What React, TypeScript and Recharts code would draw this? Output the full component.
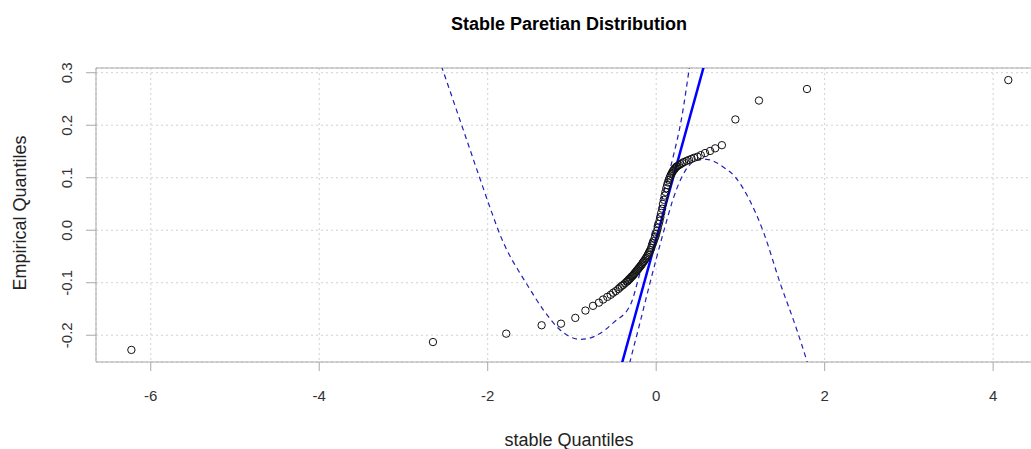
import React from "react";
import {
  ComposedChart,
  Scatter,
  Line,
  XAxis,
  YAxis,
  CartesianGrid,
  ReferenceArea,
} from "recharts";

// theoretical (stable) quantiles and the matching sample quantiles
const stableQuantiles = [
  -6.23, -2.65, -1.78, -1.36, -1.13, -0.96, -0.84, -0.75, -0.68, -0.63, -0.58, -0.54,
  -0.51, -0.48, -0.45, -0.43, -0.41, -0.39, -0.37, -0.35, -0.34, -0.33, -0.32, -0.31,
  -0.3, -0.29, -0.28, -0.27, -0.26, -0.25, -0.24, -0.23, -0.22, -0.21, -0.2, -0.19,
  -0.18, -0.17, -0.16, -0.15, -0.14, -0.13, -0.12, -0.11, -0.1, -0.09, -0.08, -0.07,
  -0.06, -0.05, -0.04, -0.03, -0.02, -0.01, 0.0, 0.01, 0.02, 0.03, 0.04, 0.05, 0.06,
  0.07, 0.08, 0.09, 0.1, 0.11, 0.12, 0.13, 0.14, 0.15, 0.16, 0.17, 0.18, 0.19, 0.2,
  0.21, 0.22, 0.23, 0.24, 0.25, 0.27, 0.29, 0.31, 0.33, 0.36, 0.39, 0.42, 0.45, 0.49,
  0.53, 0.58, 0.64, 0.7, 0.78, 0.94, 1.22, 1.79, 4.18,
];
const empiricalQuantiles = [
  -0.228, -0.213, -0.197, -0.181, -0.178, -0.167, -0.153, -0.144, -0.138, -0.132,
  -0.127, -0.123, -0.119, -0.116, -0.112, -0.109, -0.106, -0.104, -0.101, -0.098,
  -0.097, -0.095, -0.093, -0.092, -0.09, -0.088, -0.087, -0.085, -0.083, -0.081,
  -0.079, -0.077, -0.075, -0.073, -0.071, -0.069, -0.067, -0.065, -0.062, -0.06,
  -0.058, -0.055, -0.053, -0.05, -0.047, -0.044, -0.041, -0.038, -0.034, -0.029,
  -0.025, -0.021, -0.016, -0.012, -0.007, -0.001, 0.005, 0.012, 0.018, 0.025, 0.033,
  0.041, 0.05, 0.058, 0.066, 0.073, 0.08, 0.086, 0.091, 0.096, 0.1, 0.104, 0.107,
  0.11, 0.113, 0.115, 0.117, 0.119, 0.121, 0.122, 0.124, 0.126, 0.128, 0.13, 0.132,
  0.134, 0.136, 0.138, 0.14, 0.143, 0.147, 0.151, 0.156, 0.162, 0.211, 0.247, 0.269,
  0.286,
];

// reference line (qqline) end points
const qqLineX = [-0.5, 0.75];
const qqLineY = [-0.308, 0.4195];

// pointwise confidence envelope
const upperBandX = [
  -2.62, -2.533, -2.33, -2.1, -1.95, -1.85, -1.75, -1.65, -1.535, -1.338, -1.14, -0.9,
  -0.704, -0.507, -0.3, -0.2, -0.1, 0.0, 0.1, 0.2, 0.3, 0.4, 0.45,
];
const upperBandY = [
  0.345, 0.305, 0.21, 0.102, 0.033, -0.01, -0.045, -0.073, -0.103, -0.152, -0.19,
  -0.208, -0.2, -0.176, -0.14, -0.086, -0.033, 0.021, 0.078, 0.139, 0.212, 0.316, 0.37,
];
const lowerBandX = [
  -0.34, -0.31, -0.2, -0.1, 0.0, 0.1, 0.2, 0.3, 0.4, 0.5, 0.6, 0.7, 0.8, 0.94, 1.1,
  1.27, 1.47, 1.67, 1.79, 1.86,
];
const lowerBandY = [
  -0.27, -0.25, -0.181, -0.117, -0.055, 0.004, 0.059, 0.1, 0.125, 0.134, 0.135, 0.13,
  0.12, 0.101, 0.06, -0.002, -0.1, -0.19, -0.25, -0.29,
];

const xTicks = [-6, -4, -2, 0, 2, 4];
const yTicks = [-0.2, -0.1, 0.0, 0.1, 0.2, 0.3];

const toRows = (xs: number[], ys: number[]) => xs.map((x, i) => ({ x, y: ys[i] }));

const points = toRows(stableQuantiles, empiricalQuantiles);
const qqLine = toRows(qqLineX, qqLineY);
const upperBand = toRows(upperBandX, upperBandY);
const lowerBand = toRows(lowerBandX, lowerBandY);

const FONT = "'Liberation Sans', Arial, sans-serif";
const AXIS_GREY = "#a8a8a8";

function YTick({ x, y, payload }: any) {
  return (
    <text
      x={x}
      y={y}
      transform={`rotate(-90, ${x}, ${y})`}
      textAnchor="middle"
      fontSize={15}
      fontFamily={FONT}
      fill="#333"
    >
      {Number(payload.value).toFixed(1)}
    </text>
  );
}

function OpenCircle({ cx, cy }: any) {
  return <circle cx={cx} cy={cy} r={3.7} fill="none" stroke="#111" strokeWidth={1} />;
}

export default function App() {
  return (
    <div
      style={{
        position: "absolute",
        left: 0,
        top: 0,
        width: 1031,
        height: 449,
        overflow: "hidden",
        background: "#fff",
      }}
    >
      <ComposedChart
        width={1060}
        height={449}
        margin={{ top: 68, right: 18, bottom: 37, left: 10 }}
      >
        <CartesianGrid stroke="#d0d0d0" strokeDasharray="2 3" />
        <XAxis
          type="number"
          dataKey="x"
          domain={[-6.65, 4.58]}
          ticks={xTicks}
          allowDataOverflow
          axisLine={false}
          tickLine={{ stroke: AXIS_GREY }}
          tickSize={9}
          tickMargin={19}
          height={50}
          tick={{ fontSize: 15, fontFamily: FONT, fill: "#333" }}
        />
        <YAxis
          type="number"
          dataKey="y"
          domain={[-0.251, 0.309]}
          ticks={yTicks}
          allowDataOverflow
          axisLine={false}
          tickLine={{ stroke: AXIS_GREY }}
          tickSize={10}
          tickMargin={14}
          width={86}
          tick={<YTick />}
        />
        <ReferenceArea
          x1={-6.65}
          x2={4.58}
          y1={-0.251}
          y2={0.309}
          fill="none"
          stroke={AXIS_GREY}
          strokeWidth={1}
        />
        <Scatter
          data={points}
          dataKey="y"
          shape={<OpenCircle />}
          isAnimationActive={false}
        />
        <Line
          data={qqLine}
          dataKey="y"
          type="linear"
          stroke="#0000ff"
          strokeWidth={2.5}
          dot={false}
          activeDot={false}
          isAnimationActive={false}
        />
        <Line
          data={upperBand}
          dataKey="y"
          type="monotone"
          stroke="#2020b8"
          strokeWidth={1.2}
          strokeDasharray="5 4"
          dot={false}
          activeDot={false}
          isAnimationActive={false}
        />
        <Line
          data={lowerBand}
          dataKey="y"
          type="monotone"
          stroke="#2020b8"
          strokeWidth={1.2}
          strokeDasharray="5 4"
          dot={false}
          activeDot={false}
          isAnimationActive={false}
        />
      </ComposedChart>
      <svg
        width={1031}
        height={449}
        style={{ position: "absolute", left: 0, top: 0, pointerEvents: "none" }}
      >
        <text
          x={569}
          y={30}
          textAnchor="middle"
          fontSize={18}
          fontWeight="bold"
          fontFamily={FONT}
          fill="#000"
        >
          Stable Paretian Distribution
        </text>
        <text x={569} y={446} textAnchor="middle" fontSize={18} fontFamily={FONT} fill="#222">
          stable Quantiles
        </text>
        <text
          transform="translate(26, 213) rotate(-90)"
          textAnchor="middle"
          fontSize={18}
          fontFamily={FONT}
          fill="#222"
        >
          Empirical Quantiles
        </text>
      </svg>
    </div>
  );
}
